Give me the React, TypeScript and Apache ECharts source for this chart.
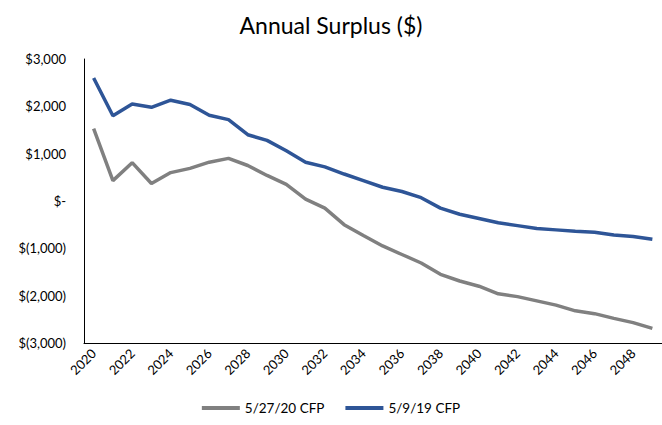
import React, { useEffect, useRef } from "react";
import * as echarts from "echarts";

const years: string[] = [];
for (let y = 2020; y <= 2049; y++) years.push(String(y));

const cfp2020 = [
  1530, 430, 810, 370, 600, 690, 820, 900, 750, 540,
  350, 40, -150, -500, -730, -950, -1130, -1310, -1550, -1690,
  -1800, -1960, -2020, -2110, -2200, -2320, -2380, -2480, -2570, -2690,
];
const cfp2019 = [
  2600, 1800, 2050, 1980, 2130, 2040, 1810, 1720, 1400, 1280,
  1060, 820, 720, 570, 430, 290, 200, 70, -150, -280,
  -370, -460, -520, -580, -610, -640, -660, -720, -750, -810,
];
const seriesNames = ["5/27/20 CFP", "5/9/19 CFP"];

const FONT = "Lato, 'Open Sans', sans-serif";

function fmt(v: number): string {
  if (v === 0) return "$-";
  const s = Math.abs(v).toLocaleString("en-US");
  return v < 0 ? `$(${s})` : `$${s}`;
}

export default function App() {
  const ref = useRef<HTMLDivElement>(null);
  useEffect(() => {
    if (!ref.current) return;
    const chart = echarts.init(ref.current, undefined, { renderer: "svg" });
    chart.setOption({
      animation: false,
      backgroundColor: "#ffffff",
      title: {
        text: "Annual Surplus ($)",
        left: "center",
        top: 8,
        textStyle: { fontFamily: FONT, fontSize: 23, fontWeight: "normal", color: "#000" },
      },
      grid: { left: 84, right: 0, top: 59, bottom: 82 },
      legend: {
        bottom: 5,
        left: "center",
        icon: "rect",
        itemWidth: 38,
        itemHeight: 4,
        itemGap: 21,
        textStyle: { fontFamily: FONT, fontSize: 13.5, color: "#000" },
        data: seriesNames,
      },
      xAxis: {
        type: "category",
        data: years,
        boundaryGap: true,
        axisLine: { onZero: false, lineStyle: { color: "#000", width: 1 } },
        axisTick: { show: false },
        axisLabel: {
          interval: 1,
          rotate: 45,
          fontFamily: FONT,
          fontSize: 13,
          color: "#000",
          margin: 8,
        },
      },
      yAxis: {
        type: "value",
        min: -3000,
        max: 3000,
        interval: 1000,
        splitLine: { show: false },
        axisLine: { show: true, lineStyle: { color: "#000", width: 1 } },
        axisTick: { show: false },
        axisLabel: {
          formatter: fmt,
          fontFamily: FONT,
          fontSize: 13,
          color: "#000",
          margin: 18,
        },
      },
      series: [
        {
          name: seriesNames[0],
          type: "line",
          data: cfp2020,
          showSymbol: false,
          symbol: "none",
          lineStyle: { color: "#808080", width: 3.5 },
          itemStyle: { color: "#808080" },
        },
        {
          name: seriesNames[1],
          type: "line",
          data: cfp2019,
          showSymbol: false,
          symbol: "none",
          lineStyle: { color: "#2E5597", width: 3.5 },
          itemStyle: { color: "#2E5597" },
        },
      ],
    });
    return () => chart.dispose();
  }, []);
  return (
    <div
      ref={ref}
      style={{ position: "absolute", left: 0, top: 0, width: 662, height: 425 }}
    />
  );
}
